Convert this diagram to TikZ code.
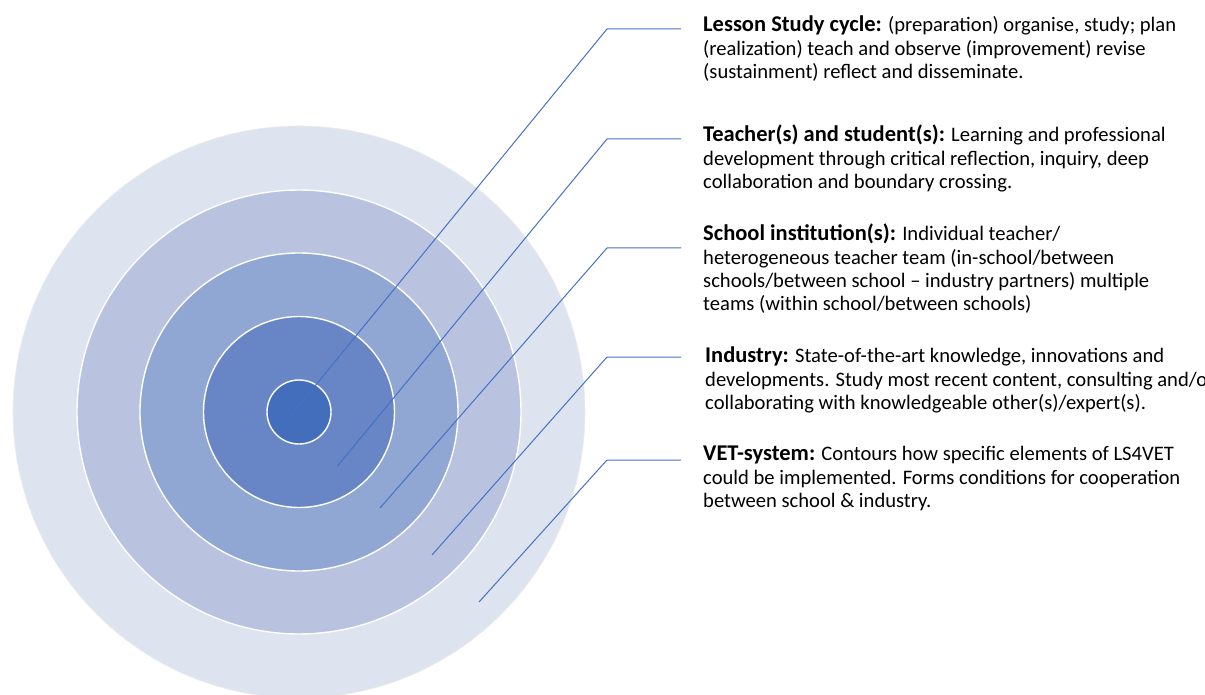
\documentclass[tikz,border=0pt]{standalone}
\usepackage{fontspec}
\setmainfont{Carlito}
\definecolor{ring1}{RGB}{222,227,240}
\definecolor{ring2}{RGB}{185,195,224}
\definecolor{ring3}{RGB}{144,166,211}
\definecolor{ring4}{RGB}{104,133,198}
\definecolor{ring5}{RGB}{66,110,187}
\definecolor{lineblue}{RGB}{68,114,196}
\begin{document}
\begin{tikzpicture}[x=1pt,y=-1pt,
  ring/.style={draw=white,line width=1.4pt},
  leader/.style={draw=lineblue,line width=1pt},
  desc/.style={anchor=north west,inner sep=0pt,align=left,
    font=\fontsize{20.6}{23.3}\selectfont}]
\useasboundingbox (0,0) rectangle (1205,695);
\begin{scope}
\clip (0,0) rectangle (1205,695);
\fill[ring1,draw=white!85!gray,line width=0.6pt] (299,412) circle (286);
\filldraw[ring,fill=ring2] (299,412) circle (222);
\filldraw[ring,fill=ring3] (299,412) circle (159);
\filldraw[ring,fill=ring4] (299,412) circle (95.5);
\filldraw[ring,fill=ring5] (299,412) circle (32);
\end{scope}
\newcommand{\hdr}[1]{{\fontsize{22.5}{23.3}\selectfont\bfseries #1}}
\node[desc] (t1) at (703,16) {\hdr{Lesson Study cycle:} (preparation) organise, study; plan\\(realization) teach and observe (improvement) revise\\(sustainment) reflect and disseminate.};
\node[desc] (t2) at (703,125) {\hdr{Teacher(s) and student(s):} Learning and professional\\development through critical reflection, inquiry, deep\\collaboration and boundary crossing.};
\node[desc] (t3) at (703,224) {\hdr{School institution(s):} Individual teacher/\\heterogeneous teacher team (in-school/between\\schools/between school -- industry partners) multiple\\teams (within school/between schools)};
\node[desc] (t4) at (705,347) {\hdr{Industry:} State-of-the-art knowledge, innovations and\\developments. Study most recent content, consulting and/or\\collaborating with knowledgeable other(s)/expert(s).};
\node[desc] (t5) at (703,446) {\hdr{VET-system:} Contours how specific elements of LS4VET\\could be implemented. Forms conditions for cooperation\\between school \& industry.};
\coordinate (s1) at (288,419);  \coordinate (c1) at (607,29);  \coordinate (e1) at (681,29);
\coordinate (s2) at (337.5,466);\coordinate (c2) at (607,139); \coordinate (e2) at (681,139);
\coordinate (s3) at (380,508);  \coordinate (c3) at (607,248); \coordinate (e3) at (681,248);
\coordinate (s4) at (432,555);  \coordinate (c4) at (607,357); \coordinate (e4) at (681,357);
\coordinate (s5) at (479,602);  \coordinate (c5) at (607,460); \coordinate (e5) at (681,460);
\foreach \i in {1,...,5} {\draw[leader] (s\i) -- (c\i) -- (e\i);}
\end{tikzpicture}
\end{document}
